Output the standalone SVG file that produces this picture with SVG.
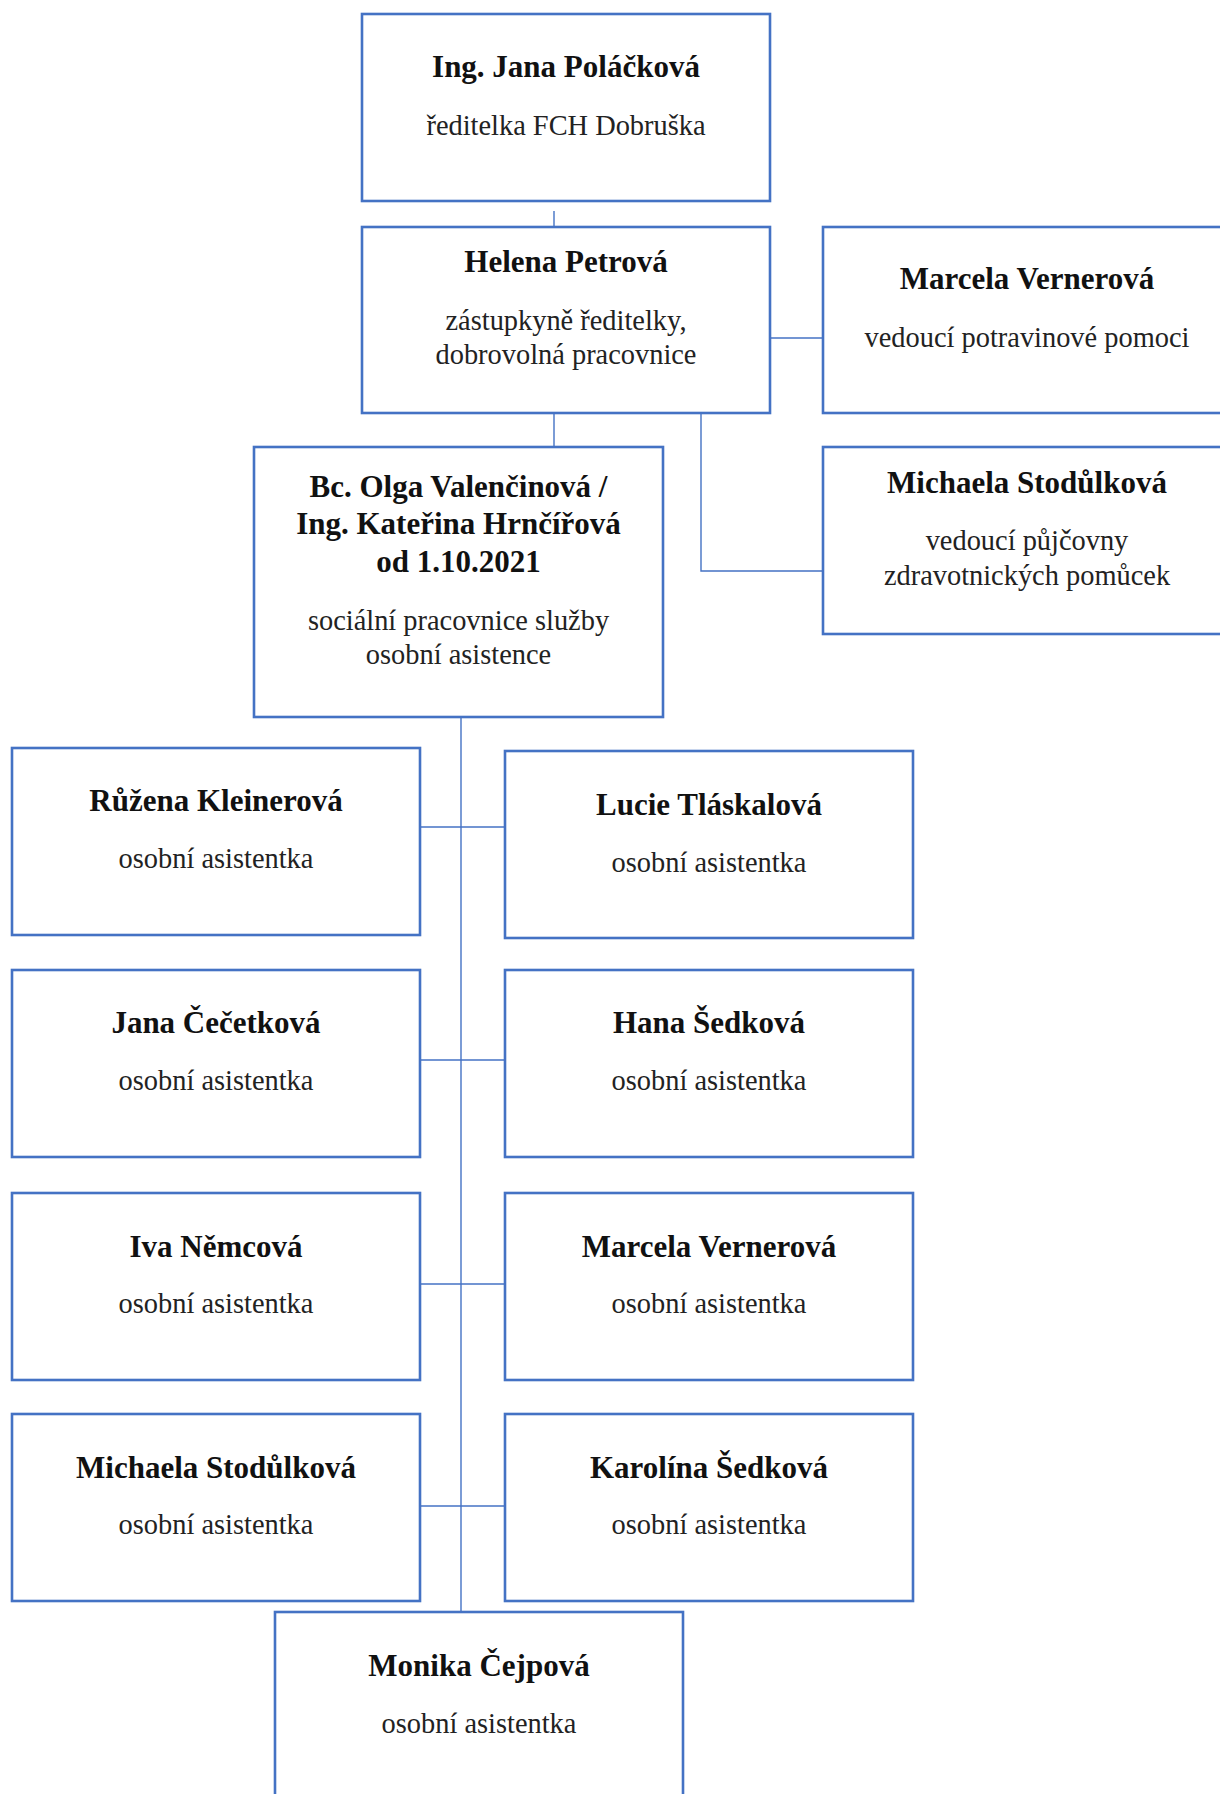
<svg xmlns="http://www.w3.org/2000/svg" width="1220" height="1794" viewBox="0 0 1220 1794">
<style>
.box{fill:#ffffff;stroke:#4472C4;stroke-width:2.6}
.con{fill:none;stroke:#4472C4;stroke-width:1.4}
.t{font-family:"Liberation Serif","DejaVu Serif",serif;font-weight:bold;font-size:31px;fill:#111;text-anchor:middle}
.s{font-family:"Liberation Serif","DejaVu Serif",serif;font-size:28.4px;fill:#222;text-anchor:middle}
</style>
<rect x="0" y="0" width="1220" height="1794" fill="#ffffff"/>
<g id="connectors">
<line class="con" x1="554" y1="211" x2="554" y2="227"/>
<line class="con" x1="770" y1="338" x2="823" y2="338"/>
<line class="con" x1="554" y1="413" x2="554" y2="447"/>
<polyline class="con" points="701,413 701,571 823,571"/>
<line class="con" x1="461" y1="717" x2="461" y2="1612"/>
<line class="con" x1="420" y1="827" x2="505" y2="827"/>
<line class="con" x1="420" y1="1060" x2="505" y2="1060"/>
<line class="con" x1="420" y1="1284" x2="505" y2="1284"/>
<line class="con" x1="420" y1="1506" x2="505" y2="1506"/>
</g>
<g id="node-polackova">
<rect class="box" x="362" y="14" width="408" height="187"/>
<text class="t" x="566" y="77">Ing. Jana Poláčková</text>
<text class="s" x="566" y="135">ředitelka FCH Dobruška</text>
</g>
<g id="node-petrova">
<rect class="box" x="362" y="227" width="408" height="186"/>
<text class="t" x="566" y="272">Helena Petrová</text>
<text class="s" x="566" y="330">zástupkyně ředitelky,</text>
<text class="s" x="566" y="364">dobrovolná pracovnice</text>
</g>
<g id="node-vernerova-top">
<rect class="box" x="823" y="227" width="408" height="186"/>
<text class="t" x="1027" y="289">Marcela Vernerová</text>
<text class="s" x="1027" y="347">vedoucí potravinové pomoci</text>
</g>
<g id="node-valencinova">
<rect class="box" x="254" y="447" width="409" height="270"/>
<text class="t" x="458.5" y="497">Bc. Olga Valenčinová /</text>
<text class="t" x="458.5" y="534">Ing. Kateřina Hrnčířová</text>
<text class="t" x="458.5" y="572">od 1.10.2021</text>
<text class="s" x="458.5" y="630">sociální pracovnice služby</text>
<text class="s" x="458.5" y="664">osobní asistence</text>
</g>
<g id="node-stodulkova-top">
<rect class="box" x="823" y="447" width="408" height="187"/>
<text class="t" x="1027" y="493">Michaela Stodůlková</text>
<text class="s" x="1027" y="550">vedoucí půjčovny</text>
<text class="s" x="1027" y="585">zdravotnických pomůcek</text>
</g>
<g id="node-kleinerova">
<rect class="box" x="12" y="748" width="408" height="187"/>
<text class="t" x="216" y="811">Růžena Kleinerová</text>
<text class="s" x="216" y="868">osobní asistentka</text>
</g>
<g id="node-tlaskalova">
<rect class="box" x="505" y="751" width="408" height="187"/>
<text class="t" x="709" y="815">Lucie Tláskalová</text>
<text class="s" x="709" y="872">osobní asistentka</text>
</g>
<g id="node-cecetkova">
<rect class="box" x="12" y="970" width="408" height="187"/>
<text class="t" x="216" y="1033">Jana Čečetková</text>
<text class="s" x="216" y="1090">osobní asistentka</text>
</g>
<g id="node-hana-sedkova">
<rect class="box" x="505" y="970" width="408" height="187"/>
<text class="t" x="709" y="1033">Hana Šedková</text>
<text class="s" x="709" y="1090">osobní asistentka</text>
</g>
<g id="node-nemcova">
<rect class="box" x="12" y="1193" width="408" height="187"/>
<text class="t" x="216" y="1257">Iva Němcová</text>
<text class="s" x="216" y="1313">osobní asistentka</text>
</g>
<g id="node-vernerova-oa">
<rect class="box" x="505" y="1193" width="408" height="187"/>
<text class="t" x="709" y="1257">Marcela Vernerová</text>
<text class="s" x="709" y="1313">osobní asistentka</text>
</g>
<g id="node-stodulkova-oa">
<rect class="box" x="12" y="1414" width="408" height="187"/>
<text class="t" x="216" y="1478">Michaela Stodůlková</text>
<text class="s" x="216" y="1534">osobní asistentka</text>
</g>
<g id="node-karolina-sedkova">
<rect class="box" x="505" y="1414" width="408" height="187"/>
<text class="t" x="709" y="1478">Karolína Šedková</text>
<text class="s" x="709" y="1534">osobní asistentka</text>
</g>
<g id="node-cejpova">
<rect class="box" x="275" y="1612" width="408" height="200"/>
<text class="t" x="479" y="1676">Monika Čejpová</text>
<text class="s" x="479" y="1733">osobní asistentka</text>
</g>
</svg>
